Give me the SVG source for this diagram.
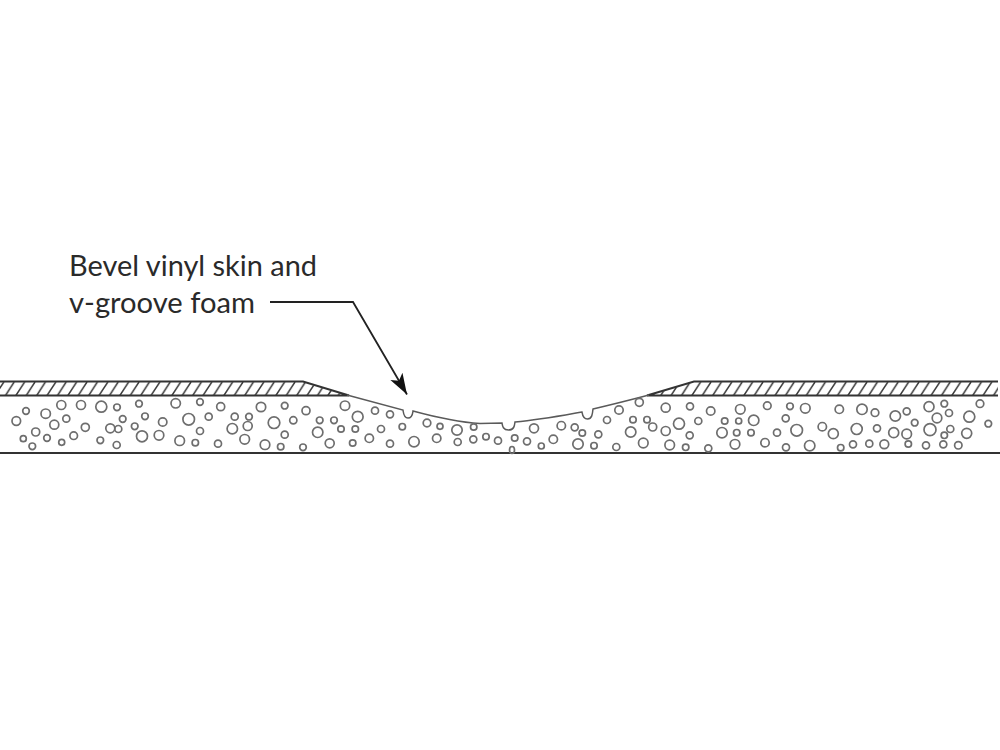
<svg xmlns="http://www.w3.org/2000/svg" width="1000" height="750" viewBox="0 0 1000 750">
<style>
.ln{fill:none;stroke:#333;stroke-width:2}
.thin{fill:none;stroke:#5a5a5a;stroke-width:1.5}
.b circle,.b ellipse{fill:none;stroke:#6e6e6e;stroke-width:1.7}
.t{font-family:Lato,"Noto Sans",sans-serif;font-size:29px;fill:#2a2a2a}
</style>
<defs>
<pattern id="h" width="10.4" height="14" patternUnits="userSpaceOnUse" patternTransform="translate(0 382)">
<path d="M-5.2 14L3.8 0M5.2 14L14.2 0" stroke="#3a3a3a" stroke-width="1.5" fill="none"/>
</pattern>
<marker id="a" markerUnits="userSpaceOnUse" markerWidth="24" markerHeight="18" refX="21" refY="9" orient="auto" viewBox="0 0 24 18">
<path d="M0 2L21 9L0 16L5 9Z" fill="#111"/>
</marker>
</defs>
<rect width="1000" height="750" fill="#fff"/>
<g id="skin">
<path d="M0 382H303L347 395.5H0Z" fill="url(#h)"/>
<path d="M998 382H694L649 395.5H998Z" fill="url(#h)"/>
<path class="ln" d="M0 381.5H303L349 395.5M0 395.5H349M998 381.5H694L647 395.5M998 395.5H647"/>
</g>
<g id="foam">
<path class="thin" d="M347 395L403 410C403.5 413 403.5 418 408 418C412.5 418 412.5 414 413 411C435 417 455 422 480 423.5L502 423C502.5 426 503 430 508.5 430C514 430 514.5 426 515 422C540 420 560 416 582 412C582.5 415 583 419 587.5 419C592 419 592.5 414 593 409C610 405 630 400 649 395"/>
<path class="ln" d="M0 453H1000"/>
</g>
<g id="bubbles" class="b">
<circle cx="61.3" cy="405" r="4.5"/><circle cx="81" cy="405" r="4.5"/><circle cx="101.3" cy="406.7" r="5.5"/><circle cx="117" cy="407.3" r="3.3"/><circle cx="139" cy="403.7" r="3.3"/><circle cx="175.7" cy="403.3" r="4.7"/><circle cx="200" cy="402" r="3.3"/><circle cx="220.7" cy="406.7" r="4"/><circle cx="261" cy="407" r="4.7"/><circle cx="284.7" cy="405.7" r="3.3"/><circle cx="306" cy="410.7" r="4"/><circle cx="26" cy="411" r="3.3"/><circle cx="45.7" cy="413.7" r="4.7"/><circle cx="66.3" cy="418.7" r="3.5"/><circle cx="16.3" cy="421" r="4.3"/><circle cx="54.3" cy="424.7" r="4.5"/><circle cx="85.3" cy="427.3" r="4"/><circle cx="122.7" cy="419" r="3.3"/><circle cx="145" cy="416.3" r="3.3"/><circle cx="162.7" cy="422" r="4.2"/><circle cx="188.7" cy="419.3" r="5.8"/><circle cx="208.7" cy="416.7" r="3.5"/><circle cx="234.7" cy="416.7" r="3.5"/><circle cx="249" cy="416.7" r="3.3"/><circle cx="274" cy="422.7" r="5.8"/><circle cx="293.3" cy="420.3" r="3.6"/><circle cx="319.7" cy="420.3" r="3.3"/><circle cx="334" cy="420.3" r="3.3"/><circle cx="35.7" cy="432" r="4"/><circle cx="110.3" cy="428.3" r="4.5"/><circle cx="118.3" cy="429" r="3.5"/><circle cx="134.7" cy="426.3" r="3.3"/><circle cx="200" cy="431" r="3.5"/><circle cx="232.3" cy="428.7" r="5.2"/><circle cx="247.7" cy="426" r="4.5"/><circle cx="317.7" cy="432.3" r="5.2"/><circle cx="23.3" cy="438.7" r="3"/><circle cx="47" cy="438" r="3.3"/><circle cx="73.7" cy="435.7" r="3.8"/><circle cx="142" cy="436.3" r="5.5"/><circle cx="159" cy="435.3" r="4.8"/><circle cx="284.7" cy="434.7" r="3.5"/><circle cx="32.3" cy="446.3" r="3.3"/><circle cx="61.7" cy="442.3" r="3"/><circle cx="100.3" cy="440.3" r="3.3"/><circle cx="116.7" cy="445" r="3.5"/><circle cx="179.7" cy="440.7" r="4.8"/><circle cx="195.3" cy="442.7" r="3.2"/><circle cx="218" cy="443.7" r="3.5"/><circle cx="244.7" cy="439.3" r="4.8"/><circle cx="265" cy="444.7" r="4.8"/><circle cx="280.7" cy="446.7" r="3.2"/><circle cx="303" cy="447.3" r="3.3"/><circle cx="329.7" cy="443.3" r="4.5"/>
<circle cx="345" cy="405.7" r="4.7"/><circle cx="357.7" cy="416.7" r="5.4"/><circle cx="375" cy="410.7" r="3.5"/><circle cx="390" cy="414.3" r="3.5"/><circle cx="341" cy="429" r="3.2"/><circle cx="355.3" cy="429" r="3.2"/><circle cx="381" cy="429" r="3.5"/><circle cx="402.3" cy="426.7" r="3.2"/><circle cx="427" cy="423" r="3.8"/><circle cx="440" cy="426.3" r="3"/><circle cx="457" cy="430" r="5.2"/><circle cx="473.7" cy="427" r="3.2"/><circle cx="534" cy="428.3" r="4.5"/><circle cx="561.3" cy="425.7" r="4.2"/><circle cx="574.7" cy="427.3" r="3.5"/><circle cx="582.3" cy="433" r="3.2"/><circle cx="598.3" cy="434.3" r="3.5"/><circle cx="607" cy="420" r="3.5"/><circle cx="619" cy="410" r="4.2"/><circle cx="639.3" cy="402.3" r="4"/><circle cx="633" cy="419.7" r="3.2"/><circle cx="647" cy="419.7" r="3.2"/><circle cx="652.7" cy="427" r="4"/><circle cx="630.7" cy="432" r="5.2"/><circle cx="665.7" cy="407.7" r="4.5"/><circle cx="665.7" cy="431" r="4.5"/><circle cx="643.3" cy="443" r="4.8"/><circle cx="352.7" cy="443" r="3.2"/><circle cx="369.3" cy="438.3" r="4.2"/><circle cx="390" cy="443.7" r="3.5"/><circle cx="414" cy="441.7" r="5.2"/><circle cx="436.7" cy="438.3" r="4.2"/><circle cx="457.7" cy="442" r="3.5"/><circle cx="473.3" cy="439.3" r="3.5"/><circle cx="486" cy="436.7" r="3.2"/><circle cx="498" cy="440.7" r="3.5"/><circle cx="514.7" cy="438" r="3.2"/><circle cx="527" cy="441.3" r="3.5"/><circle cx="541.3" cy="446" r="3"/><circle cx="553.3" cy="439.3" r="4.2"/><circle cx="578" cy="444" r="5.2"/><circle cx="594" cy="445.7" r="3.2"/><circle cx="616.3" cy="447" r="3.5"/><ellipse cx="512" cy="450" rx="2.5" ry="3.5"/>
<circle cx="690" cy="406.3" r="3.5"/><circle cx="710.7" cy="411" r="4.2"/><circle cx="740.3" cy="409.3" r="4.8"/><circle cx="767.3" cy="405.7" r="3.8"/><circle cx="790" cy="406.3" r="3.3"/><circle cx="805.3" cy="408.3" r="4.8"/><circle cx="839.3" cy="409.3" r="4.2"/><circle cx="862" cy="409.3" r="5.2"/><circle cx="875" cy="412.7" r="3.8"/><circle cx="895.3" cy="416" r="5.2"/><circle cx="906.7" cy="411.3" r="3.5"/><circle cx="929" cy="406.7" r="5"/><circle cx="944.3" cy="403.7" r="3.3"/><circle cx="949" cy="413" r="3.5"/><circle cx="937" cy="418" r="4.8"/><circle cx="969.3" cy="416.7" r="5.5"/><circle cx="980" cy="403.7" r="3.8"/><circle cx="988.3" cy="423.7" r="3.3"/><circle cx="679" cy="423.7" r="5.5"/><circle cx="698.3" cy="421" r="3.5"/><circle cx="724.7" cy="421" r="3.2"/><circle cx="738.7" cy="421" r="3"/><circle cx="753.7" cy="420.3" r="5.2"/><circle cx="785.7" cy="418.3" r="3.5"/><circle cx="914.7" cy="422.7" r="3.3"/><circle cx="689.7" cy="435.3" r="3.5"/><circle cx="722" cy="432.7" r="5.2"/><circle cx="736.7" cy="432.7" r="3.2"/><circle cx="751" cy="432.7" r="3.2"/><circle cx="777" cy="432.7" r="3.5"/><circle cx="796.7" cy="430.3" r="5.8"/><circle cx="822.3" cy="426.7" r="4.2"/><circle cx="833.3" cy="433.7" r="5"/><circle cx="856.7" cy="429" r="5.5"/><circle cx="877" cy="428.3" r="3.5"/><circle cx="893.7" cy="432.7" r="5"/><circle cx="906.7" cy="434" r="4.8"/><circle cx="930" cy="429.7" r="6"/><circle cx="950.3" cy="429" r="3.5"/><circle cx="944.3" cy="435.3" r="3.2"/><circle cx="966.7" cy="433.3" r="5"/><circle cx="669.7" cy="445" r="4.8"/><circle cx="685.7" cy="447.3" r="3.2"/><circle cx="708.3" cy="448.3" r="3.5"/><circle cx="735" cy="444.3" r="4.8"/><circle cx="765" cy="442.7" r="4.2"/><circle cx="786" cy="447.3" r="3.5"/><circle cx="809.7" cy="445.7" r="5.2"/><circle cx="840.7" cy="447.7" r="3.2"/><circle cx="853" cy="444.3" r="3.5"/><circle cx="869.3" cy="443.7" r="3.5"/><circle cx="884.3" cy="444.3" r="4.4"/><circle cx="908.3" cy="444" r="3.2"/><circle cx="926" cy="445.3" r="3.5"/><circle cx="943.3" cy="444.3" r="3.5"/><circle cx="958.3" cy="445.3" r="3.7"/>
</g>
<g id="label">
<text class="t" x="69" y="276" textLength="248" lengthAdjust="spacingAndGlyphs">Bevel vinyl skin and</text>
<text class="t" x="69" y="312.5" textLength="186" lengthAdjust="spacingAndGlyphs">v-groove foam</text>
</g>
<g id="connectors">
<path d="M270 302H353L407 394.5" fill="none" stroke="#222" stroke-width="1.8" marker-end="url(#a)"/>
</g>
</svg>
